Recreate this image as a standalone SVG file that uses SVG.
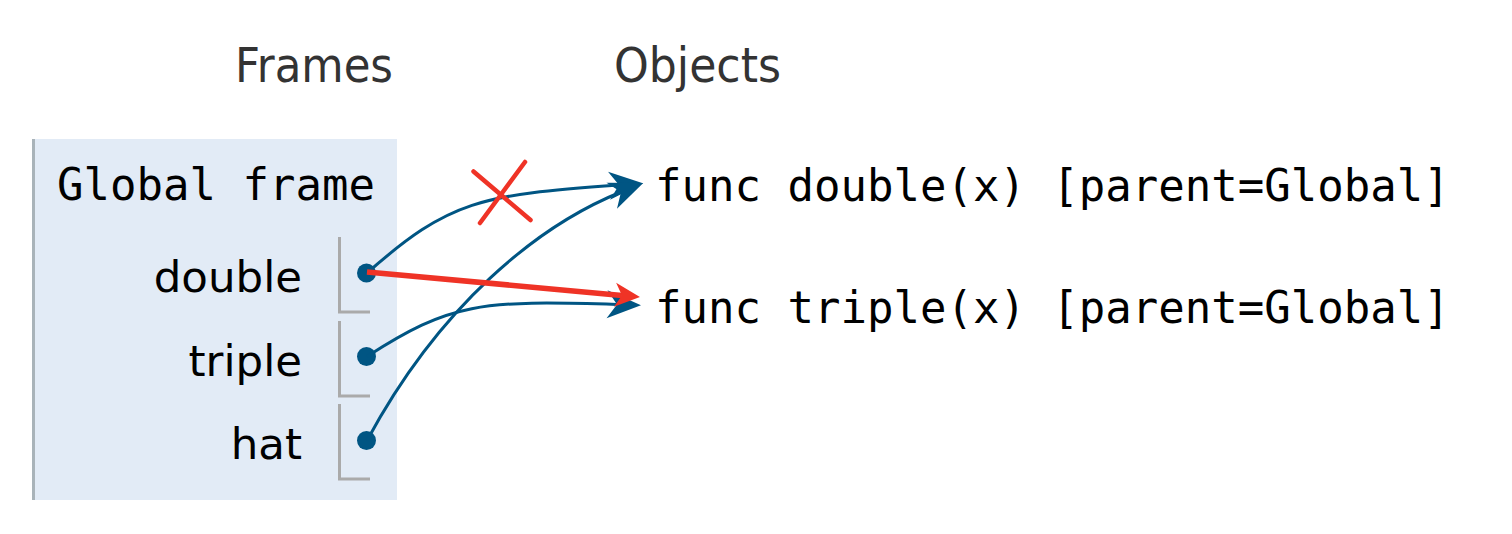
<svg xmlns="http://www.w3.org/2000/svg" width="1512" height="534" viewBox="0 0 1512 534">
<style>
.hdr{font-family:"DejaVu Sans","Liberation Sans",sans-serif;font-size:48px;fill:#333333}
.mono{font-family:"DejaVu Sans Mono","Liberation Mono",monospace;font-size:44px;fill:#000000}
.var{font-family:"DejaVu Sans","Liberation Sans",sans-serif;font-size:43.5px;fill:#000000;text-anchor:end}
.brk{fill:none;stroke:#aaaaaa;stroke-width:3}
.dot{fill:#005583}
.blue{fill:none;stroke:#005583;stroke-width:3;marker-end:url(#ab)}
.red{fill:none;stroke:#ef3326;stroke-width:5.5;marker-end:url(#ar)}
.x{stroke:#ef3326;stroke-width:4.5;stroke-linecap:round}
</style>
<defs>
<marker id="ab" markerUnits="userSpaceOnUse" orient="auto" refX="0" refY="0" markerWidth="80" markerHeight="80" viewBox="-40 -40 80 80" overflow="visible">
<path d="M24,0 L-10,-14 L0,0 L-10,14 Z" fill="#005583"/>
</marker>
<marker id="ar" markerUnits="userSpaceOnUse" orient="auto" refX="0" refY="0" markerWidth="80" markerHeight="80" viewBox="-40 -40 80 80" overflow="visible">
<path d="M18,0 L-7,-12 L0,0 L-7,12 Z" fill="#ef3326"/>
</marker>
</defs>
<rect width="1512" height="534" fill="#ffffff"/>
<g id="headers">
<text class="hdr" x="235" y="82" textLength="158" lengthAdjust="spacingAndGlyphs">Frames</text>
<text class="hdr" x="614" y="82" textLength="167" lengthAdjust="spacingAndGlyphs">Objects</text>
</g>
<g id="global-frame">
<rect x="32" y="139" width="365" height="361" fill="#e2ebf6"/>
<line x1="33.5" y1="139" x2="33.5" y2="500" stroke="#a9b3b9" stroke-width="3"/>
<text class="mono" x="57" y="200">Global frame</text>
<text class="var" x="302" y="292">double</text>
<text class="var" x="302" y="375.5">triple</text>
<text class="var" x="302" y="458.5">hat</text>
<polyline class="brk" points="339.5,237 339.5,312 370,312"/>
<polyline class="brk" points="339.5,321 339.5,396 370,396"/>
<polyline class="brk" points="339.5,404 339.5,479 370,479"/>
<circle class="dot" cx="366.5" cy="273" r="9.5"/>
<circle class="dot" cx="366.5" cy="356.5" r="9.5"/>
<circle class="dot" cx="366.5" cy="440.5" r="9.5"/>
</g>
<g id="func-double">
<text class="mono" x="655" y="201">func double(x) [parent=Global]</text>
</g>
<g id="func-triple">
<text class="mono" x="655" y="323">func triple(x) [parent=Global]</text>
</g>
<g id="connectors">
<path class="blue" d="M367,273 C450,200 480,195 619,185"/>
<path class="blue" d="M367,356.5 C450,303 480,300 617,304.5"/>
<path class="blue" d="M367,440.5 C440,305 537.6,225.8 621,192"/>
<path class="red" d="M367,272 L622,295.4"/>
<line class="x" x1="473.5" y1="171.5" x2="530.5" y2="220"/>
<line class="x" x1="525" y1="162" x2="480" y2="223"/>
</g>
</svg>
